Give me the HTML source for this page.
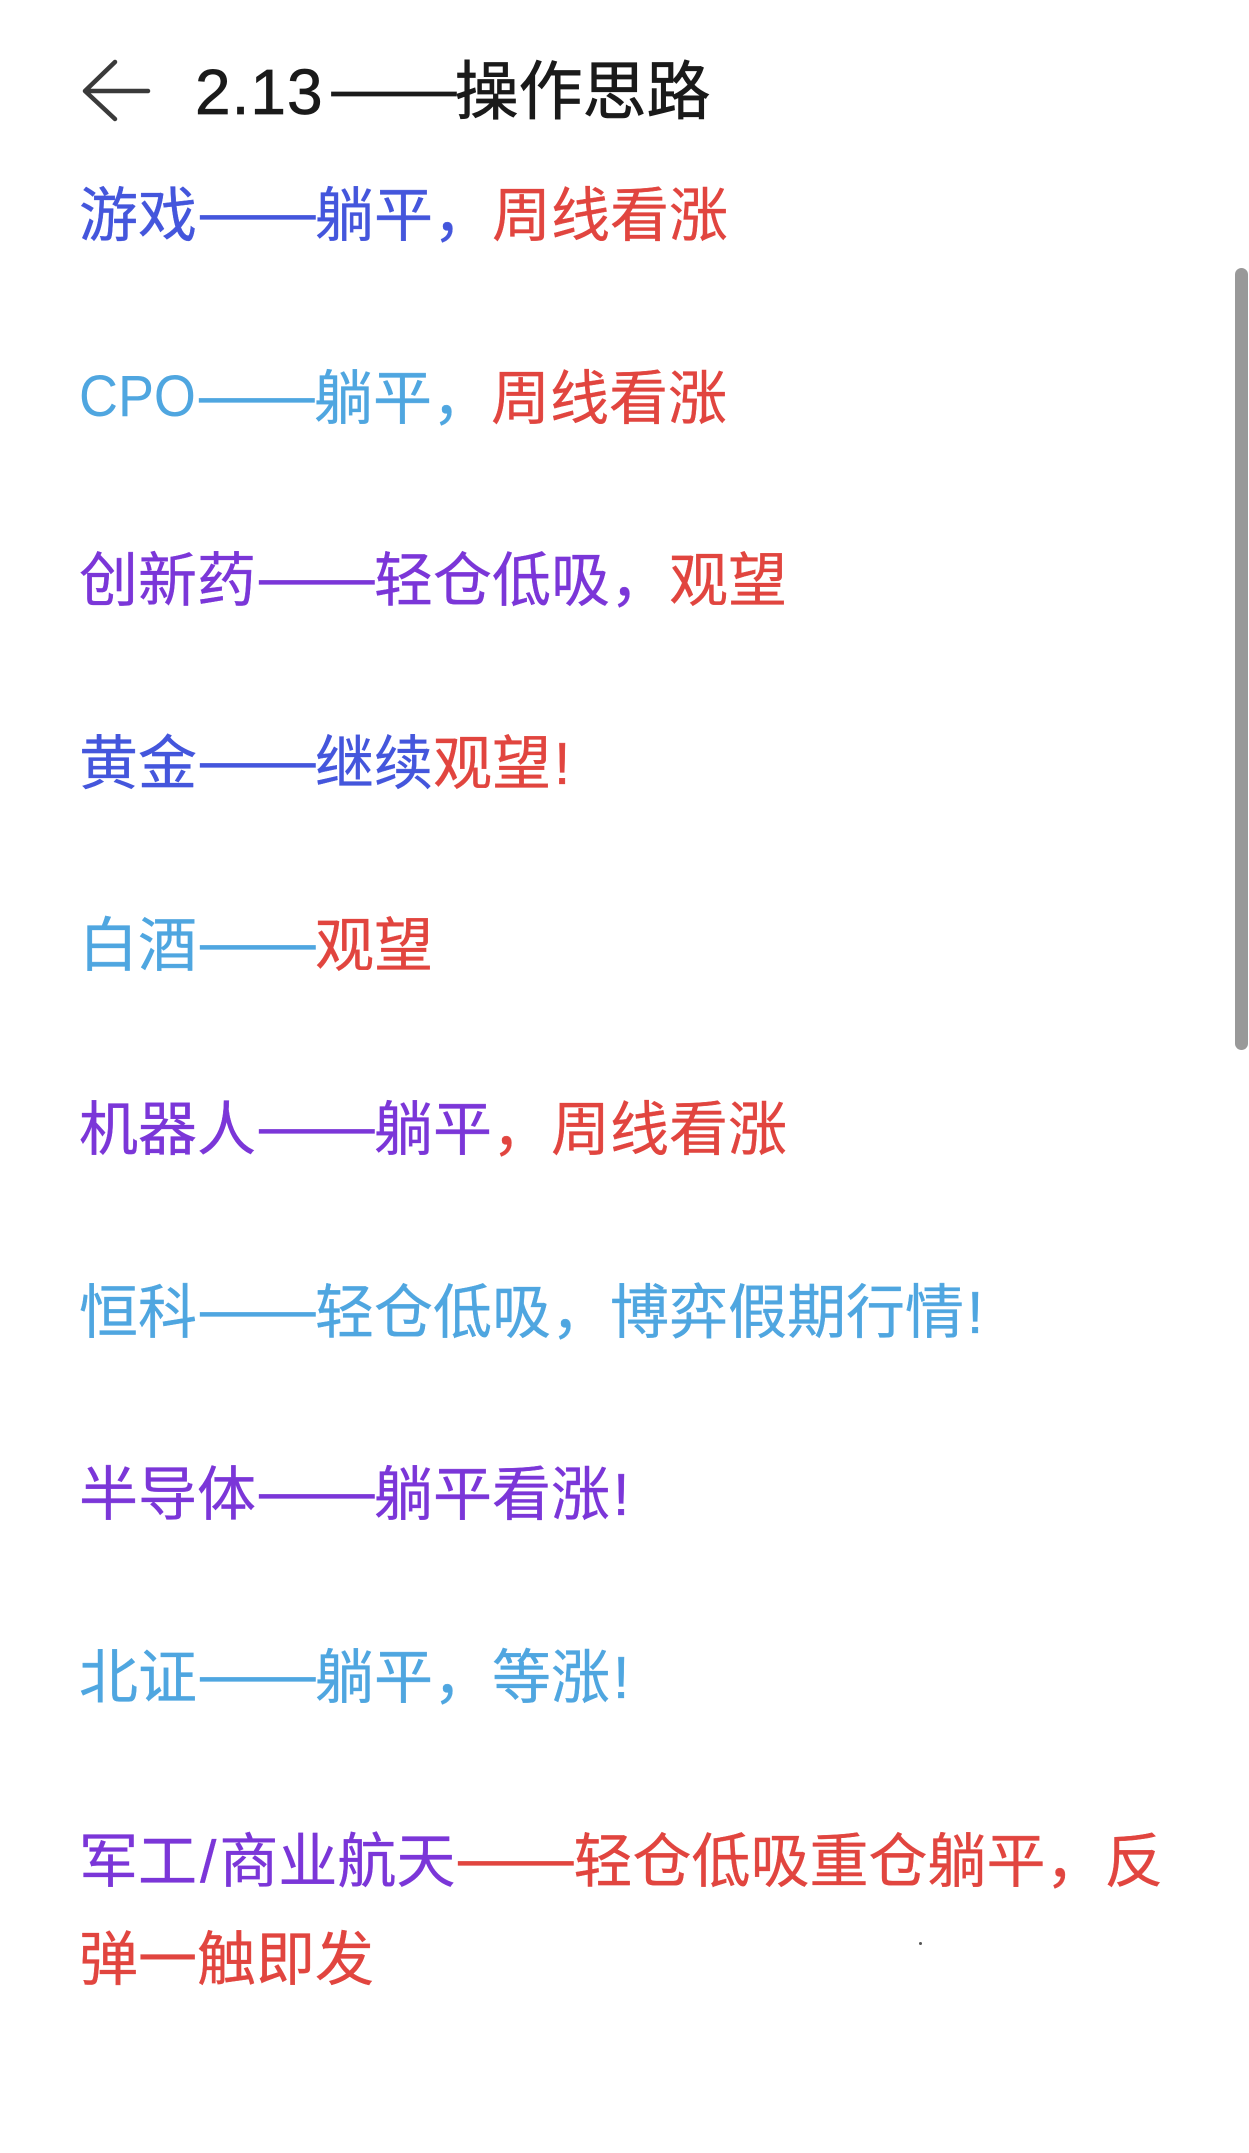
<!DOCTYPE html>
<html><head><meta charset="utf-8"><style>
html,body{margin:0;padding:0;background:#fff}
#p{position:relative;width:1249px;height:2153px;overflow:hidden;background:#fff;font-family:"Liberation Sans","Noto Sans CJK SC",sans-serif}
.l{position:absolute;left:79px;height:80px;line-height:80px;font-size:59px;white-space:nowrap;font-family:"Noto Sans CJK SC",sans-serif;-webkit-text-stroke:.35px currentColor}
.l i{font-style:normal;font-family:"Liberation Sans",sans-serif}
.l i.s{padding:0 3px}
.l i.x{margin-left:3px}
.l i.cpo{display:inline-block;width:117px;font-size:58px;line-height:80px;transform:scaleX(.93);transform-origin:left center;position:relative;top:-3px;-webkit-text-stroke:0}
.d{display:inline-block;width:118px;white-space:nowrap}
.d span{display:inline-block;transform:scaleX(1.23);transform-origin:left center;position:relative;top:-2px;-webkit-text-stroke:.8px currentColor}
.b{color:#4456dc}.c{color:#4fa6e0}.v{color:#7b36d8}.r{color:#e1453f}
#t{position:absolute;left:195px;top:47px;height:80px;line-height:80px;font-size:64px;color:#1a1a1a;white-space:nowrap;font-family:"Noto Sans CJK SC",sans-serif;-webkit-text-stroke:.7px #1a1a1a}
#t i{font-style:normal;font-family:"Liberation Sans",sans-serif;letter-spacing:1px}
#t .d{width:127px;margin-left:4px}
#s{position:absolute;left:1235px;top:268px;width:13px;height:782px;border-radius:7px;background:#999}
#m{position:absolute;left:919px;top:1942px;width:3px;height:3px;border-radius:2px;background:#555}
</style></head><body><div id="p">
<svg style="position:absolute;left:0;top:0" width="200" height="160"><path d="M115 62L85 91L115 119M85 91H148" fill="none" stroke="#3a3a3a" stroke-width="4.5" stroke-linecap="round" stroke-linejoin="round"/></svg>
<div id="t"><i>2.13</i><span class="d"><span>——</span></span>操作思路</div>
<div class="l b" style="top:171px">游戏<span class="d"><span>——</span></span>躺平，<span class="r">周线看涨</span></div>
<div class="l c" style="top:354px"><i class="cpo">CPO</i><span class="d"><span>——</span></span>躺平，<span class="r">周线看涨</span></div>
<div class="l v" style="top:536px">创新药<span class="d"><span>——</span></span>轻仓低吸，<span class="r">观望</span></div>
<div class="l b" style="top:719px">黄金<span class="d"><span>——</span></span>继续<span class="r">观望<i class="x">!</i></span></div>
<div class="l c" style="top:901px">白酒<span class="d"><span>——</span></span><span class="r">观望</span></div>
<div class="l v" style="top:1085px">机器人<span class="d"><span>——</span></span>躺平<span class="r">，周线看涨</span></div>
<div class="l c" style="top:1268px">恒科<span class="d"><span>——</span></span>轻仓低吸，博弈假期行情<i class="x">!</i></div>
<div class="l v" style="top:1450px">半导体<span class="d"><span>——</span></span>躺平看涨<i class="x">!</i></div>
<div class="l c" style="top:1633px">北证<span class="d"><span>——</span></span>躺平，等涨<i class="x">!</i></div>
<div class="l v" style="top:1817px">军工<i class="s">/</i>商业航天<span class="r"><span class="d"><span>——</span></span>轻仓低吸重仓躺平，反</span></div>
<div class="l r" style="top:1915px">弹一触即发</div>
<div id="s"></div><div id="m"></div>
</div></body></html>
